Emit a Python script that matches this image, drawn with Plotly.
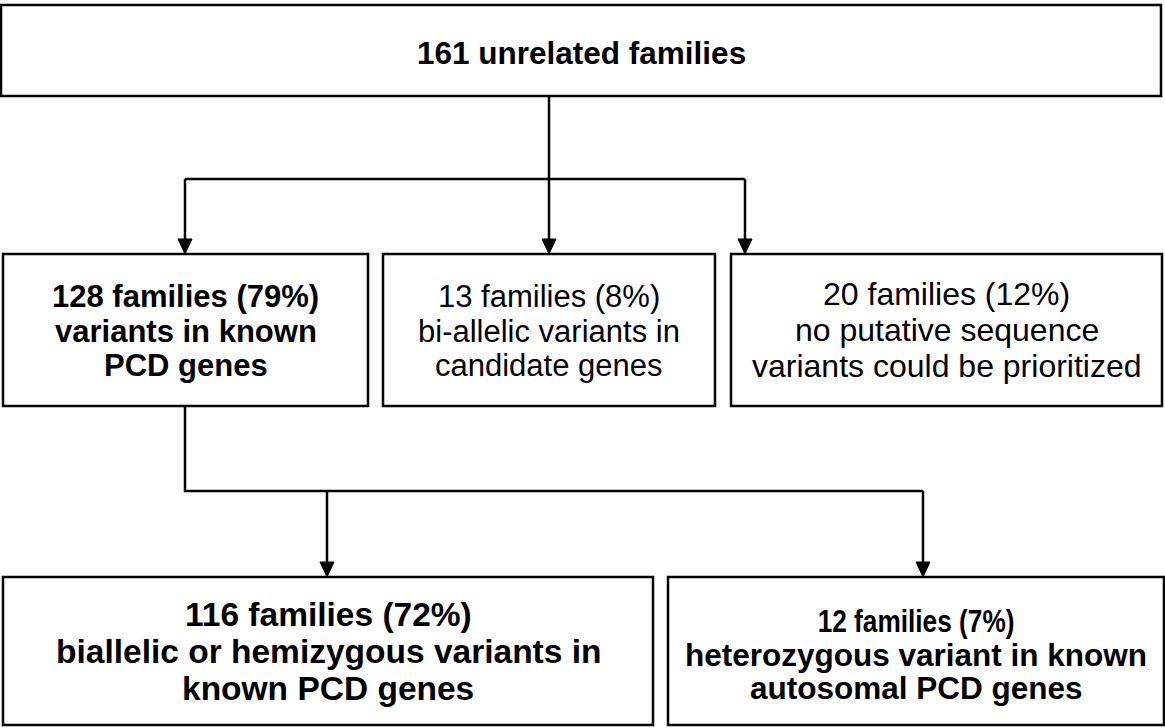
import json
import plotly.graph_objects as go

W, H = 1165, 728

# Boxes: (x0, y0, x1, y1) in pixel-like data units (y downward)
box_names = ["top", "known", "candidate", "none", "biallelic", "heterozygous"]
box_x0 = [1, 3, 383, 731, 3, 668]
box_y0 = [5, 254, 254, 254, 577, 577]
box_x1 = [1161, 368, 715, 1162, 653, 1164]
box_y1 = [96, 406, 406, 406, 725, 725]

# Text lines for each box
box_lines = [
    ["161 unrelated families"],
    ["128 families (79%)", "variants in known", "PCD genes"],
    ["13 families (8%)", "bi-allelic variants in", "candidate genes"],
    ["20 families (12%)", "no putative sequence", "variants could be prioritized"],
    ["116 families (72%)", "biallelic or hemizygous variants in", "known PCD genes"],
    ["12 families (7%)", "heterozygous variant in known", "autosomal PCD genes"],
]
line_y = [
    [52.5],
    [296, 331, 365],
    [296, 331, 365],
    [294, 330, 366],
    [614, 651, 688],
    [621, 655, 688],
]
box_bold = [True, True, False, False, True, True]
line_size = [
    [31.5],
    [31, 31, 31],
    [31, 31, 31],
    [32, 32, 32],
    [33.5, 33.5, 33.5],
    [32, 31.5, 31.5],
]
# horizontal condensing (narrow face) per line
line_sx = [
    [1.0],
    [1.0, 1.0, 1.0],
    [1.0, 1.0, 1.0],
    [1.0, 1.0, 1.0],
    [1.0, 1.0, 1.0],
    [0.82, 1.0, 1.0],
]

# Connectors: polylines (list of points), arrow at end where flagged
connectors = [
    ([(549, 96), (549, 254)], True),
    ([(185, 179), (745, 179)], False),
    ([(185, 179), (185, 254)], True),
    ([(745, 179), (745, 254)], True),
    ([(185, 406), (185, 491), (923, 491)], False),
    ([(327, 491), (327, 577)], True),
    ([(923, 491), (923, 577)], True),
]

fig = go.Figure()
shapes = []
annotations = []
transforms = []

LW = 2.5
for x0, y0, x1, y1 in zip(box_x0, box_y0, box_x1, box_y1):
    shapes.append(dict(type="rect", x0=x0, y0=y0, x1=x1, y1=y1,
                       line=dict(color="black", width=LW), fillcolor="white", layer="below"))

AW, AH = 7, 15
for pts, arrow in connectors:
    path = "M " + " L ".join(f"{x},{y}" for x, y in pts)
    if arrow:
        (xb, yb) = pts[-1]
        pts2 = pts[:-1] + [(xb, yb - AH)]
        path = "M " + " L ".join(f"{x},{y}" for x, y in pts2)
        shapes.append(dict(type="path",
                           path=f"M {xb-AW},{yb-AH} L {xb+AW},{yb-AH} L {xb},{yb} Z",
                           fillcolor="black", line=dict(color="black", width=1)))
    shapes.append(dict(type="path", path=path, line=dict(color="black", width=LW)))

for i in range(len(box_names)):
    cx = (box_x0[i] + box_x1[i]) / 2
    for txt, ty, sz, sx in zip(box_lines[i], line_y[i], line_size[i], line_sx[i]):
        t = f"<b>{txt}</b>" if box_bold[i] else txt
        if sx != 1.0:
            transforms.append([len(annotations), sx])
        annotations.append(dict(x=cx, y=ty, text=t, showarrow=False,
                                xanchor="center", yanchor="middle",
                                font=dict(family="Liberation Sans, Arial", size=sz, color="black")))

fig.update_layout(
    width=W, height=H,
    margin=dict(l=0, r=0, t=0, b=0),
    paper_bgcolor="white", plot_bgcolor="white",
    xaxis=dict(range=[0, W], visible=False, fixedrange=True),
    yaxis=dict(range=[H, 0], visible=False, fixedrange=True),
    shapes=shapes, annotations=annotations, showlegend=False,
)

post = (
    "document.body.style.margin='0';document.body.style.overflow='hidden';"
    "var tf=" + json.dumps(transforms) + ";"
    "var gd=document.getElementById('{plot_id}');"
    "tf.forEach(function(a){var t=gd.querySelector('g.annotation[data-index=\"'+a[0]+'\"] text.annotation-text');"
    "if(t){t.style.transformBox='fill-box';t.style.transformOrigin='center';"
    "t.style.transform='scaleX('+a[1]+')';}});"
)
fig.write_html("out.html", config={"displayModeBar": False}, post_script=post)
